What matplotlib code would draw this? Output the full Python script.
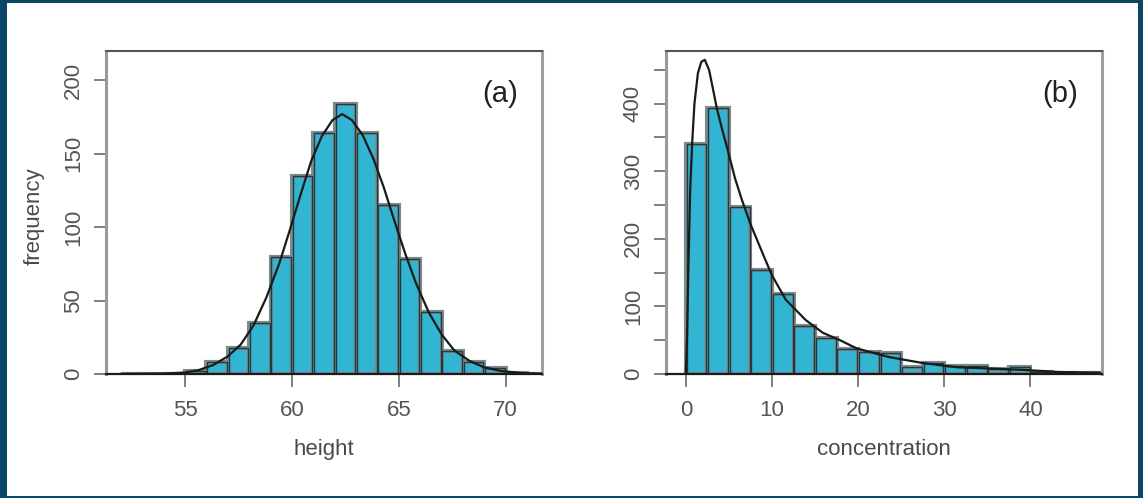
import numpy as np
import matplotlib.pyplot as plt
from matplotlib.patches import Rectangle

plt.rcParams['font.family'] = ['Liberation Sans', 'DejaVu Sans']

# panel (a): height histogram, bins of width 1
height_bin_left = [52, 53, 54, 55, 56, 57, 58, 59, 60, 61, 62, 63, 64, 65, 66, 67, 68, 69, 70, 71]
height_counts = [0, 0, 0, 2, 8, 18, 35, 80, 135, 164, 184, 164, 115, 78, 42, 16, 8, 4, 1, 0]
height_curve_x = [52.0, 54.0, 55.0, 55.6, 56.3, 57.0, 57.6, 58.2, 58.8, 59.4, 59.9, 60.4, 60.9,
                  61.4, 61.9, 62.35, 62.8, 63.3, 63.8, 64.3, 64.8, 65.3, 65.8, 66.4, 67.0,
                  67.6, 68.3, 69.0, 69.8, 70.8, 71.7]
height_curve_y = [0, 0.3, 1, 2.5, 6, 12, 20, 33, 52, 75, 98, 122, 145,
                  162, 173, 177, 173, 163, 147, 127, 104, 82, 62, 42, 27,
                  16, 9, 4.5, 2, 0.6, 0.2]

# panel (b): concentration histogram, bins of width 2.5
conc_bin_left = [0, 2.5, 5, 7.5, 10, 12.5, 15, 17.5, 20, 22.5, 25, 27.5, 30, 32.5, 35,
                 37.5, 40, 42.5, 45, 47.5]
conc_counts = [340, 393, 247, 154, 118, 71, 54, 37, 33, 31, 10, 17, 12, 12, 8,
               11, 3, 2, 2, 1]
conc_curve_x = [0.0, 0.15, 0.3, 0.5, 0.75, 1.0, 1.4, 1.8, 2.2, 2.7, 3.1, 3.6, 4.3, 5.0,
                5.7, 6.5, 7.5, 8.9, 10.0, 11.6, 13.9, 15.9, 17.9, 19.8, 23.6, 27.6,
                31.5, 35.4, 39.3, 43.2, 48.0]
conc_curve_y = [0, 60, 160, 270, 345, 400, 445, 462, 465, 450, 425, 393, 358, 325,
                290, 258, 222, 179, 146, 110, 80, 61, 50, 38, 25, 16,
                10, 8, 6, 3, 2]

bar_color = '#31b5d2'
gray_gap = '#7c8b8e'
dark_edge = '#1f3a40'
frame_color = '#0a4766'

fig = plt.figure(figsize=(11.43, 4.98), dpi=100)
fig.patch.set_facecolor(frame_color)
fig.add_artist(Rectangle((7 / 1143, 2.5 / 498), 1131 / 1143, 492 / 498,
                         transform=fig.transFigure, facecolor='white',
                         edgecolor='none', zorder=0))


def draw_panel(ax, lefts, width, counts, cx, cy, xlim, ylim, xticks,
               yticks, ylabels, xlabel, tag):
    lefts = np.array(lefts, dtype=float)
    # gray strips at the bin boundaries, then dark outlined bars inside them
    ax.bar(lefts, counts, width=width, align='edge', color=bar_color,
           edgecolor=gray_gap, linewidth=3, zorder=2)
    shrink = width * 0.08
    ax.bar(lefts + shrink / 2, counts, width=width - shrink, align='edge',
           color='none', edgecolor=dark_edge, linewidth=1.0, zorder=3)
    ax.plot(cx, cy, color='#1a1a1a', linewidth=1.6, zorder=4)

    ax.set_xlim(*xlim)
    ax.set_ylim(*ylim)
    ax.set_xticks(xticks)
    ax.set_yticks(yticks)
    ax.set_yticklabels(ylabels, rotation=90, va='center')
    ax.tick_params(axis='both', direction='out', length=9, width=1.2,
                   color='#6a6a6a', labelcolor='#555555', labelsize=16)
    ax.tick_params(axis='x', pad=10)
    ax.tick_params(axis='y', pad=7)

    ax.spines['top'].set_color('#555555')
    ax.spines['top'].set_linewidth(1.5)
    ax.spines['right'].set_color('#a0a0a0')
    ax.spines['right'].set_linewidth(2.2)
    ax.spines['left'].set_color('#999999')
    ax.spines['left'].set_linewidth(2.2)
    ax.spines['bottom'].set_color('#1a1a1a')
    ax.spines['bottom'].set_linewidth(1.6)
    ax.spines['bottom'].set_zorder(5)

    ax.set_xlabel(xlabel, fontsize=16, color='#4a4a4a')
    ax.xaxis.set_label_coords(0.5, -0.2)
    ax.text(0.905, 0.868, tag, transform=ax.transAxes, fontsize=21,
            color='#222222', ha='center', va='center')


ax_a = fig.add_axes([106 / 1143, 124 / 498, 436 / 1143, 323 / 498])
draw_panel(ax_a, height_bin_left, 1.0, height_counts, height_curve_x,
           height_curve_y, (51.3, 71.7), (0, 220), [55, 60, 65, 70],
           [0, 50, 100, 150, 200], ['0', '50', '100', '150', '200'],
           'height', '(a)')
ax_a.set_ylabel('frequency', fontsize=16, color='#4a4a4a')
ax_a.yaxis.set_label_coords(-0.14, 0.49)

ax_b = fig.add_axes([666 / 1143, 124 / 498, 436 / 1143, 323 / 498])
draw_panel(ax_b, conc_bin_left, 2.5, conc_counts, conc_curve_x,
           conc_curve_y, (-2.3, 48.3), (0, 478), [0, 10, 20, 30, 40],
           [0, 50, 100, 150, 200, 250, 300, 350, 400, 450],
           ['0', '', '100', '', '200', '', '300', '', '400', ''],
           'concentration', '(b)')

fig.savefig('out.png', dpi=100, facecolor=fig.get_facecolor())
